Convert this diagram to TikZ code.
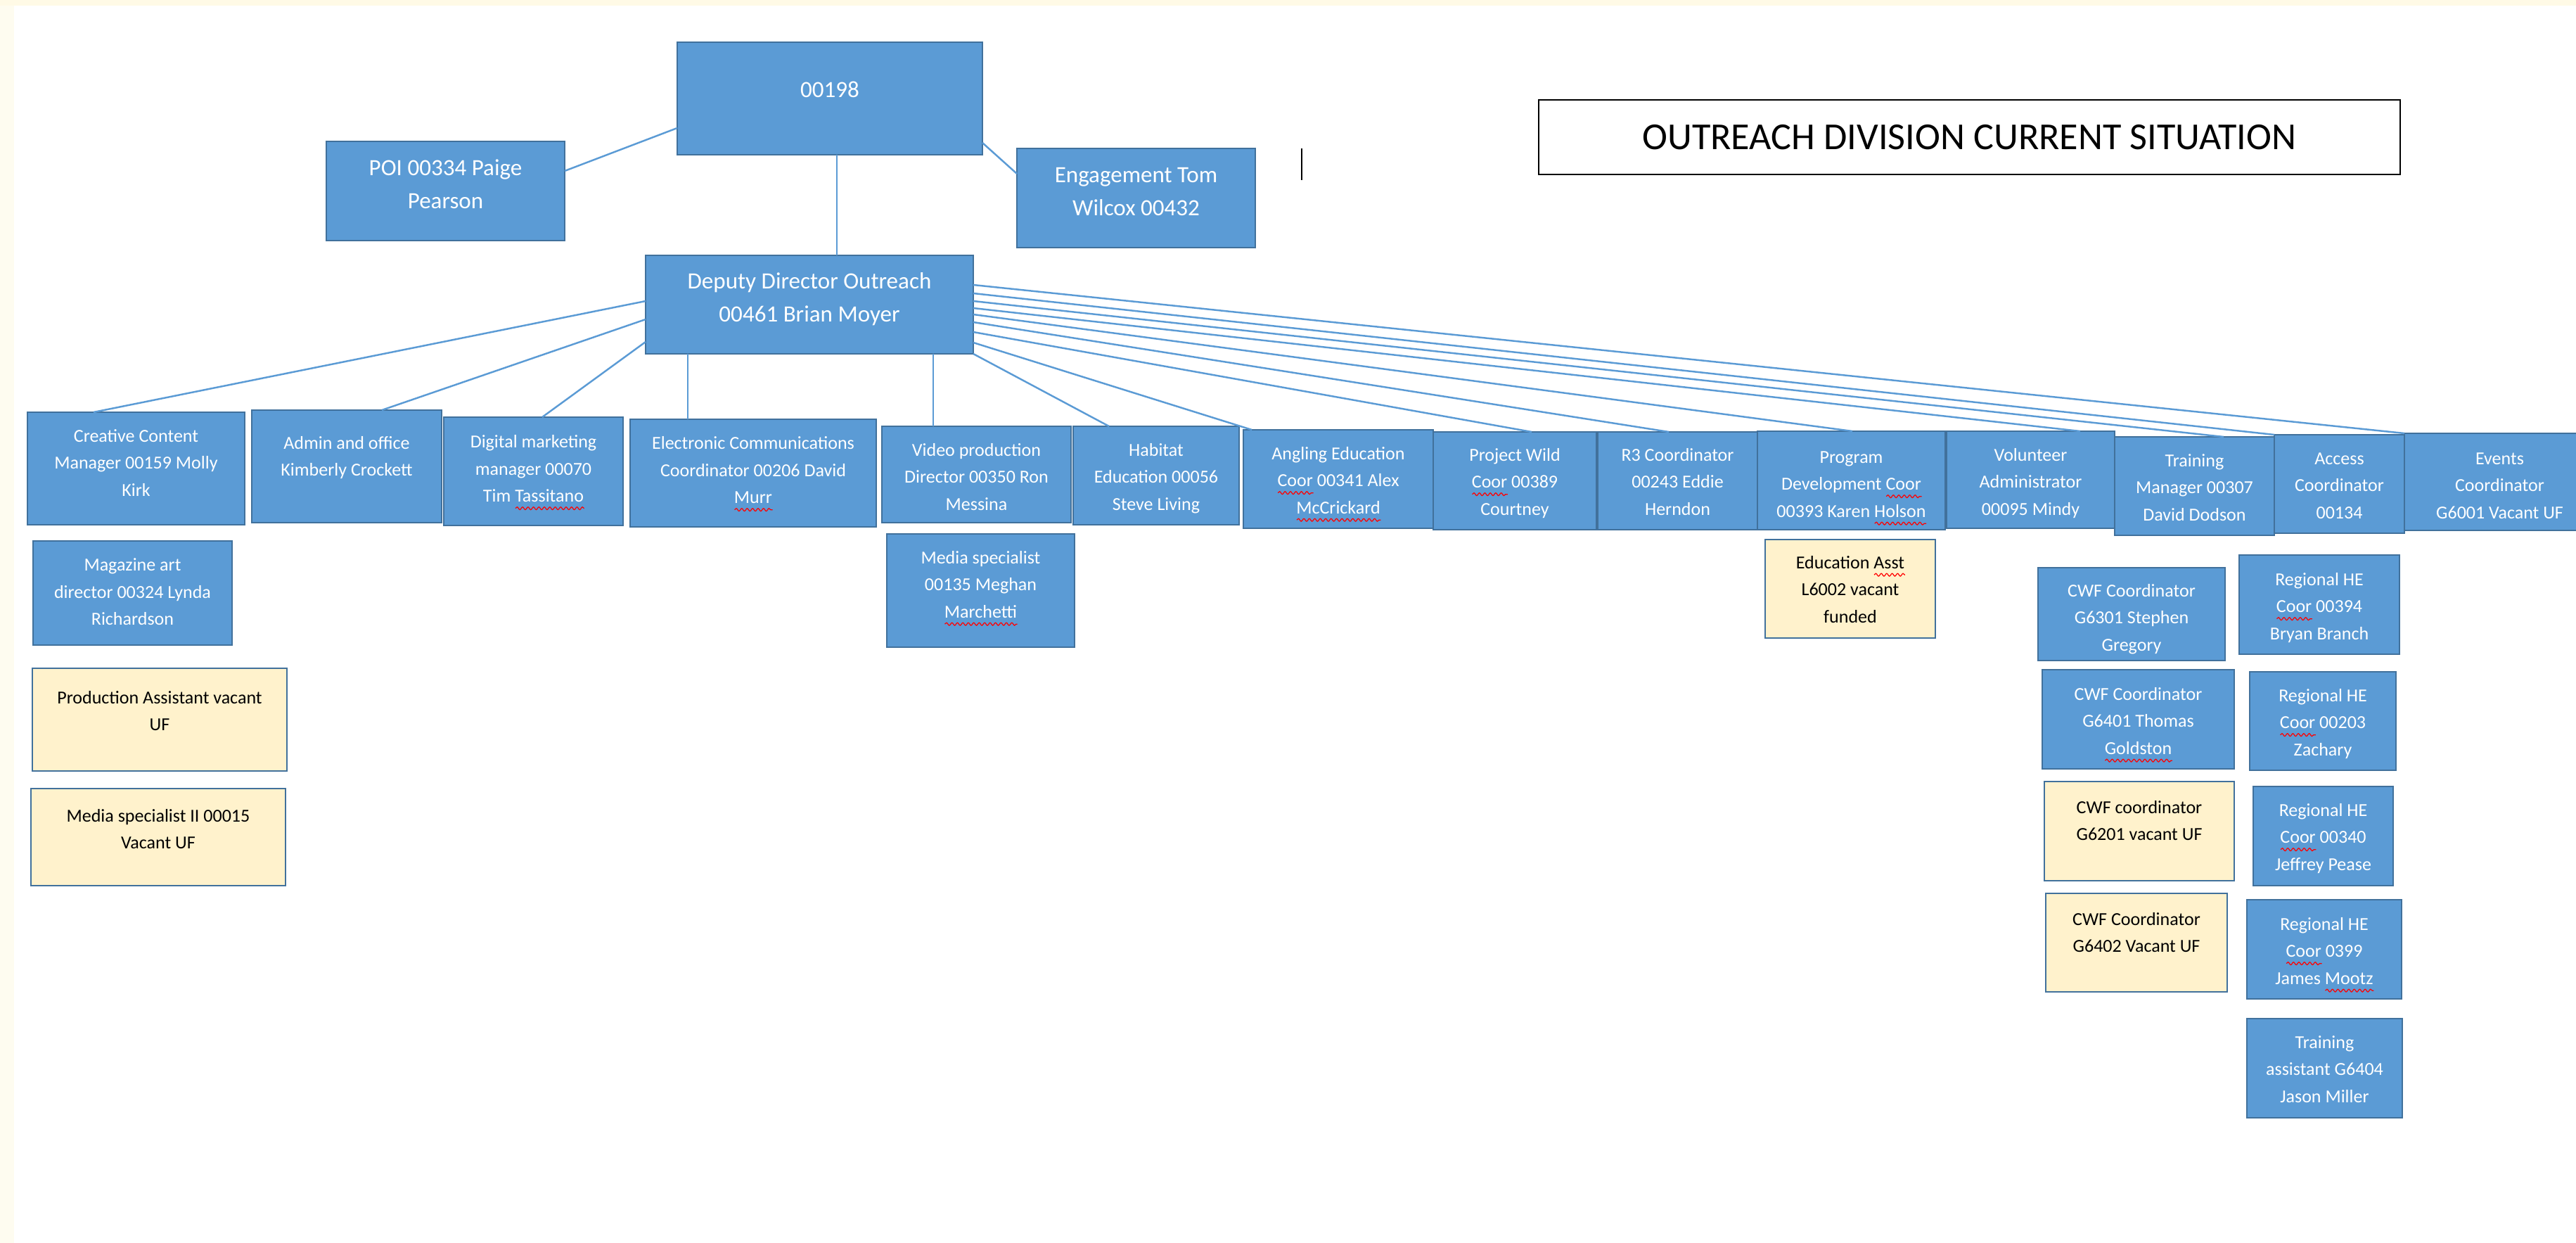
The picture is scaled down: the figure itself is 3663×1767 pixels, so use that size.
\documentclass[tikz,border=0pt]{standalone}
\usepackage{fontspec}
\setmainfont{Carlito}
\usetikzlibrary{calc,decorations.pathmorphing}
\definecolor{bfill}{HTML}{5B9BD5}
\definecolor{bline}{HTML}{41719C}
\definecolor{yfill}{HTML}{FFF2CC}
\definecolor{cream}{HTML}{FFFAE6}
\definecolor{creamL}{HTML}{FEFCF0}
\newsavebox\sqbox
\newcommand\sq[1]{\leavevmode\sbox\sqbox{#1}%
  \rlap{\raisebox{-2.6pt}{\tikz[baseline=0pt,x=1cm,y=1cm]{\draw[red, line width=0.35pt,
    decoration={snake, amplitude=0.55pt, segment length=2.2pt}, decorate] (0pt,0pt) -- (\wd\sqbox,0pt);}}}%
  \usebox\sqbox}
% style, name, x1, y1, x2, y2, first-baseline pad (px), text
\newcommand\obox[8]{%
  \pgfmathsetlengthmacro\bw{(#5-#3)*0.01cm}%
  \pgfmathsetlengthmacro\bh{(#6-#4)*0.01cm}%
  \pgfmathsetlengthmacro\bp{#7*0.01cm}%
  \node[#1, anchor=north west] (#2) at (#3,#4)
    {\parbox[c][\bh][t]{\bw}{\centering\rule{0pt}{\bp}#8\par}};%
}
\tikzset{
  bluebox/.style={draw=bline, fill=bfill, line width=0.6pt, inner sep=0pt, outer sep=0pt,
    text=white, font=\fontsize{7.4}{10.95}\selectfont},
  yelbox/.style={bluebox, fill=yfill, text=black},
  topbox/.style={bluebox, font=\fontsize{9.4}{13.3}\selectfont},
  titlebox/.style={draw=black, fill=white, line width=0.7pt, inner sep=0pt, outer sep=0pt,
    font=\fontsize{15.4}{18}\selectfont, text=black},
  conn/.style={draw=bfill, line width=0.7pt},
  cursorline/.style={draw=black, line width=0.6pt},
}
\begin{document}
\begin{tikzpicture}[x=0.01cm, y=-0.01cm]
\useasboundingbox (0,0) rectangle (3663,1767);
\fill[white] (0,0) rectangle (3663,1767);
\fill[cream] (0,0) rectangle (3663,8);
\fill[creamL] (0,8) rectangle (20,1767);

% top level
\obox{topbox}{t}{963}{60}{1397}{220}{78.5}{00198}
\obox{topbox}{poi}{464}{201}{803}{342}{48.5}{POI 00334 Paige\\Pearson}
\obox{topbox}{eng}{1446}{211}{1785}{352}{48.5}{Engagement Tom\\Wilcox 00432}
\obox{topbox}{dep}{918}{363}{1384}{503}{47.5}{Deputy Director Outreach\\00461 Brian Moyer}

% title
\node[titlebox, anchor=north west, minimum width=12.24cm, minimum height=1.06cm] (title) at (2188,142)
  {OUTREACH DIVISION CURRENT SITUATION};
\coordinate (cur1) at (1851,211);
\coordinate (cur2) at (1851,256);
\draw[cursorline] (cur1) -- (cur2);

% second row
\obox{bluebox}{cc}{39}{586}{348}{746}{42}{Creative Content\\Manager 00159 Molly\\Kirk}
\obox{bluebox}{adm}{358}{583}{628}{743}{55}{Admin and office\\Kimberly Crockett}
\obox{bluebox}{dig}{631}{593}{886}{747}{43.5}{Digital marketing\\manager 00070\\Tim \sq{Tassitano}}
\obox{bluebox}{ecc}{896}{596}{1246}{749}{42.5}{Electronic Communications\\Coordinator 00206 David\\\sq{Murr}}
\obox{bluebox}{vid}{1254}{606}{1523}{743}{42}{Video production\\Director 00350 Ron\\Messina}
\obox{bluebox}{hab}{1526}{606}{1762}{746}{42}{Habitat\\Education 00056\\Steve Living}
\obox{bluebox}{ang}{1768}{611}{2038}{751}{42}{Angling Education\\\sq{Coor} 00341 Alex\\\sq{McCrickard}}
\obox{bluebox}{pw}{2038}{614}{2270}{753}{41}{Project Wild\\\sq{Coor} 00389\\Courtney}
\obox{bluebox}{rthree}{2272}{614}{2499}{753}{41}{R3 Coordinator\\00243 Eddie\\Herndon}
\obox{bluebox}{prg}{2499}{613}{2766}{753}{45}{Program\\Development \sq{Coor}\\00393 Karen \sq{Holson}}
\obox{bluebox}{vol}{2768}{613}{3007}{751}{42}{Volunteer\\Administrator\\00095 Mindy}
\obox{bluebox}{trn}{3007}{621}{3234}{761}{42}{Training\\Manager 00307\\David Dodson}
\obox{bluebox}{acc}{3234}{618}{3419}{758}{42}{Access\\Coordinator\\00134}
\obox{bluebox}{evt}{3419}{616}{3690}{754}{44}{Events\\Coordinator\\G6001 Vacant UF}

% sub boxes
\obox{bluebox}{mag}{47}{769}{330}{917}{42.5}{Magazine art\\director 00324 Lynda\\Richardson}
\obox{yelbox}{pa}{46}{950}{408}{1096}{50}{Production Assistant vacant\\UF}
\obox{yelbox}{mstwo}{44}{1121}{406}{1259}{47}{Media specialist II 00015\\Vacant UF}
\obox{bluebox}{msp}{1261}{759}{1528}{920}{42}{Media specialist\\00135 Meghan\\\sq{Marchetti}}
\obox{yelbox}{edu}{2510}{767}{2752}{907}{41}{Education \sq{Asst}\\L6002 vacant\\funded}
\obox{bluebox}{cwfa}{2898}{807}{3164}{939}{41}{CWF Coordinator\\G6301 Stephen\\Gregory}
\obox{bluebox}{rhea}{3184}{789}{3412}{930}{43}{Regional HE\\\sq{Coor} 00394\\Bryan Branch}
\obox{bluebox}{cwfb}{2904}{952}{3177}{1093}{43}{CWF Coordinator\\G6401 Thomas\\\sq{Goldston}}
\obox{bluebox}{rheb}{3199}{955}{3407}{1095}{42}{Regional HE\\\sq{Coor} 00203\\Zachary}
\obox{yelbox}{cwfc}{2907}{1111}{3177}{1252}{45}{CWF coordinator\\G6201 vacant UF}
\obox{bluebox}{rhec}{3204}{1118}{3403}{1259}{42}{Regional HE\\\sq{Coor} 00340\\Jeffrey Pease}
\obox{yelbox}{cwfd}{2909}{1270}{3167}{1410}{45}{CWF Coordinator\\G6402 Vacant UF}
\obox{bluebox}{rhed}{3195}{1279}{3415}{1420}{43}{Regional HE\\\sq{Coor} 0399\\James \sq{Mootz}}
\obox{bluebox}{tas}{3195}{1448}{3416}{1589}{42}{Training\\assistant G6404\\Jason Miller}

% connectors, top level
\draw[conn] ($(t.north west)+(0,122)$) -- ($(poi.north east)+(0,42)$);
\draw[conn] ($(t.north east)+(0,143)$) -- ($(eng.north west)+(0,36)$);
\draw[conn] ($(t.south west)+(227,0)$) -- ($(dep.north west)+(272,0)$);

% connectors from deputy
\draw[conn] ($(dep.north west)+(0,65)$) -- ($(cc.north west)+(94,0)$);
\draw[conn] ($(dep.north west)+(0,91)$) -- ($(adm.north west)+(185,0)$);
\draw[conn] ($(dep.north west)+(0,123)$) -- ($(dig.north west)+(140,0)$);
\draw[conn] ($(dep.south west)+(60,0)$) -- ($(ecc.north west)+(82,0)$);
\draw[conn] ($(dep.south west)+(409,0)$) -- ($(vid.north west)+(73,0)$);
\draw[conn] (dep.south east) -- ($(hab.north west)+(51,0)$);
\draw[conn] ($(dep.north east)+(0,124)$) -- ($(ang.north west)+(12,0)$);
\draw[conn] ($(dep.north east)+(0,109)$) -- ($(pw.north west)+(140,0)$);
\draw[conn] ($(dep.north east)+(0,95)$) -- ($(rthree.north west)+(101,0)$);
\draw[conn] ($(dep.north east)+(0,84)$) -- ($(prg.north west)+(135,0)$);
\draw[conn] ($(dep.north east)+(0,75)$) -- ($(vol.north west)+(190,0)$);
\draw[conn] ($(dep.north east)+(0,65)$) -- ($(trn.north west)+(155,0)$);
\draw[conn] ($(dep.north east)+(0,54)$) -- (acc.north west);
\draw[conn] ($(dep.north east)+(0,42)$) -- (evt.north west);
\end{tikzpicture}
\end{document}
